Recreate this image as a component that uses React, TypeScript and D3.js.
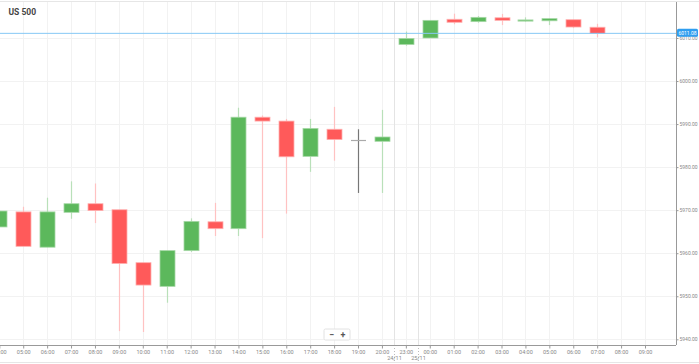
import React, { useEffect, useRef } from "react";
import * as d3 from "d3";

// hourly candles
const hours = [
  "04:00", "05:00", "06:00", "07:00", "08:00", "09:00", "10:00", "11:00", "12:00",
  "13:00", "14:00", "15:00", "16:00", "17:00", "18:00", "19:00", "20:00", "23:00",
  "00:00", "01:00", "02:00", "03:00", "04:00", "05:00", "06:00", "07:00", "08:00", "09:00",
];
const opens = [
  5966.1, 5969.6, 5961.4, 5969.5, 5971.5, 5970.1, 5957.8, 5952.3, 5960.6,
  5967.3, 5965.7, 5991.6, 5990.7, 5982.5, 5988.8, 5986.3, 5986.0, 6008.5,
  6010.0, 6014.35, 6013.8, 6014.7, 6014.0, 6014.0, 6014.25, 6012.5, null, null,
];
const highs = [
  5969.9, 5970.8, 5972.9, 5976.7, 5976.2, 5970.1, 5957.8, 5960.6, 5968.1,
  5971.7, 5993.8, 5992.0, 5991.2, 5991.2, 5994.0, 5988.8, 5993.3, 6011.5,
  6014.1, 6015.65, 6015.1, 6015.6, 6014.8, 6014.6, 6014.3, 6013.3, null, null,
];
const lows = [
  5966.1, 5961.6, 5961.4, 5968.0, 5967.0, 5941.9, 5941.7, 5948.5, 5960.3,
  5964.0, 5964.0, 5963.5, 5969.2, 5978.9, 5981.5, 5974.0, 5974.0, 6008.2,
  6010.0, 6013.2, 6013.55, 6013.0, 6013.8, 6013.0, 6012.3, 6010.15, null, null,
];
const closes = [
  5969.8, 5961.6, 5969.6, 5971.5, 5969.9, 5957.6, 5952.6, 5960.6, 5967.4,
  5965.7, 5991.6, 5990.7, 5982.4, 5989.0, 5986.4, 5986.3, 5987.0, 6009.9,
  6014.1, 6013.65, 6014.8, 6014.1, 6014.2, 6014.5, 6012.55, 6011.08, null, null,
];
const priceTicks = [5940, 5950, 5960, 5970, 5980, 5990, 6000, 6010];
const dayBreaks = [
  { after: "20:00", before: "23:00", label: "24/11" },
  { after: "23:00", before: "00:00", label: "25/11" },
];
const lastPrice = 6011.08;

const App = () => {
  const chartRef = useRef<SVGSVGElement | null>(null);

  useEffect(() => {
    const width = 699;
    const height = 364;
    const plotRight = 676;
    const axisY = 345;

    const svg = d3.select(chartRef.current);
    svg.selectAll("*").remove();

    const idx = hours.map((_, i) => String(i));
    const x = d3.scalePoint<string>().domain(idx).range([-0.7, 645]);
    const y = d3.scaleLinear().domain([5940, 6010]).range([339.3, 38]);
    const font = "Roboto, 'Open Sans', sans-serif";

    svg.append("rect").attr("width", width).attr("height", height).attr("fill", "#fff");

    // frame lines top/bottom
    svg.append("line").attr("x1", 0).attr("x2", width).attr("y1", 1.5).attr("y2", 1.5)
      .attr("stroke", "#e6e6e6");
    svg.append("line").attr("x1", 0).attr("x2", width).attr("y1", 362.5).attr("y2", 362.5)
      .attr("stroke", "#e6e6e6");

    const clip = svg.append("defs").append("clipPath").attr("id", "plotclip");
    clip.append("rect").attr("x", 0).attr("y", 2).attr("width", plotRight).attr("height", axisY - 2);

    const plot = svg.append("g").attr("clip-path", "url(#plotclip)");

    // vertical grid
    plot.selectAll("line.vgrid")
      .data(idx)
      .join("line")
      .attr("class", "vgrid")
      .attr("x1", d => Math.round(x(d)!) + 0.5)
      .attr("x2", d => Math.round(x(d)!) + 0.5)
      .attr("y1", 2)
      .attr("y2", axisY)
      .attr("stroke", "#f2f2f2");

    // horizontal grid
    plot.selectAll("line.hgrid")
      .data(priceTicks)
      .join("line")
      .attr("class", "hgrid")
      .attr("x1", 0)
      .attr("x2", plotRight)
      .attr("y1", d => Math.round(y(d)) + 0.5)
      .attr("y2", d => Math.round(y(d)) + 0.5)
      .attr("stroke", "#f2f2f2");

    // day separators, halfway between the two hours around the gap
    const breakX = (b: { after: string; before: string }) => {
      const a = hours.indexOf(b.after);
      const c = hours.indexOf(b.before, a);
      return Math.round((x(String(a))! + x(String(c))!) / 2) + 0.5;
    };
    dayBreaks.forEach(b => {
      const bx = breakX(b);
      plot.append("line").attr("x1", bx).attr("x2", bx).attr("y1", 2).attr("y2", axisY)
        .attr("stroke", "#e4e4e4");
      svg.append("line").attr("x1", bx).attr("x2", bx).attr("y1", axisY).attr("y2", 362)
        .attr("stroke", "#bbb").attr("stroke-dasharray", "1,2");
      svg.append("text").attr("x", bx).attr("y", 360).attr("text-anchor", "middle")
        .style("font-family", font).style("font-size", "5.5px").attr("fill", "#888")
        .text(b.label);
    });

    const candles = idx
      .map((k, i) => ({ k, o: opens[i], h: highs[i], l: lows[i], c: closes[i] }))
      .filter(d => d.o !== null);

    const colorOf = (d: any) => (d.c > d.o ? "#5cb85c" : d.c < d.o ? "#ff5a5a" : "#666");
    const wickOf = (d: any) => (d.c > d.o ? "#b9e0b9" : d.c < d.o ? "#ffc2c2" : "#777");
    const bodyW = 15;

    // wicks
    plot.selectAll("line.wick")
      .data(candles)
      .join("line")
      .attr("class", "wick")
      .attr("x1", d => Math.round(x(d.k)!) + 0.5)
      .attr("x2", d => Math.round(x(d.k)!) + 0.5)
      .attr("y1", d => y(d.h as number))
      .attr("y2", d => y(d.l as number))
      .attr("stroke", wickOf)
      .attr("stroke-width", 1.2);

    // bodies
    plot.selectAll("rect.body")
      .data(candles.filter(d => d.o !== d.c))
      .join("rect")
      .attr("class", "body")
      .attr("x", d => Math.round(x(d.k)!) - bodyW / 2 + 0.5)
      .attr("y", d => y(Math.max(d.o as number, d.c as number)))
      .attr("width", bodyW)
      .attr("height", d => Math.max(1.2, Math.abs(y(d.o as number) - y(d.c as number))))
      .attr("fill", colorOf)
      .attr("stroke", d => (d.c! > d.o! ? "#a6d8a6" : "#ffb0b0"))
      .attr("stroke-width", 0.8);

    // doji bar
    plot.selectAll("line.doji")
      .data(candles.filter(d => d.o === d.c))
      .join("line")
      .attr("class", "doji")
      .attr("x1", d => Math.round(x(d.k)!) - bodyW / 2 + 0.5)
      .attr("x2", d => Math.round(x(d.k)!) + bodyW / 2 + 0.5)
      .attr("y1", d => Math.round(y(d.o as number)) + 0.5)
      .attr("y2", d => Math.round(y(d.o as number)) + 0.5)
      .attr("stroke", "#aaa")
      .attr("stroke-width", 1.2);

    // last price line
    const py = y(lastPrice);
    svg.append("line").attr("x1", 0).attr("x2", plotRight).attr("y1", py).attr("y2", py)
      .attr("stroke", "#86c8f5").attr("stroke-width", 1);

    // right axis
    const yAxis = svg.append("g").attr("transform", `translate(${plotRight + 0.5},0)`)
      .call(d3.axisRight(y).tickValues(priceTicks).tickSize(2).tickFormat(d3.format(".2f")));
    yAxis.select(".domain").attr("stroke", "#999").attr("d", `M0,2V${axisY}`);
    yAxis.selectAll(".tick line").attr("stroke", "#999");
    yAxis.selectAll("text")
      .attr("x", 3)
      .style("font-family", font)
      .style("font-size", "5px")
      .attr("fill", "#888");

    // last price badge
    svg.append("rect").attr("x", plotRight + 1).attr("y", py - 4.5).attr("width", 21).attr("height", 8)
      .attr("rx", 1.5).attr("fill", "#2f9ef0");
    svg.append("text").attr("x", plotRight + 11.5).attr("y", py + 1.8).attr("text-anchor", "middle")
      .style("font-family", font).style("font-size", "5px").attr("fill", "#fff")
      .text(lastPrice.toFixed(2));

    // bottom axis
    const xAxis = svg.append("g").attr("transform", `translate(0,${axisY + 0.5})`)
      .call(d3.axisBottom(x).tickSize(3).tickFormat(d => hours[+d]));
    xAxis.select(".domain").attr("stroke", "#999").attr("d", `M0,0H${plotRight}`);
    xAxis.selectAll(".tick line").attr("stroke", "#999");
    xAxis.selectAll("text")
      .attr("y", 5)
      .style("font-family", font)
      .style("font-size", "5.5px")
      .attr("fill", "#888");

    // zoom control
    const zc = svg.append("g").attr("transform", "translate(324,329)");
    zc.append("rect").attr("width", 26).attr("height", 11).attr("rx", 1.5)
      .attr("fill", "#fff").attr("stroke", "#e2e2e2");
    zc.append("text").attr("x", 7.5).attr("y", 8.5).attr("text-anchor", "middle")
      .style("font-family", font).style("font-size", "9px").style("font-weight", "bold")
      .attr("fill", "#555").text("−");
    zc.append("text").attr("x", 19).attr("y", 8.5).attr("text-anchor", "middle")
      .style("font-family", font).style("font-size", "9px").style("font-weight", "bold")
      .attr("fill", "#555").text("+");

    // title
    svg.append("text").attr("x", 8.5).attr("y", 15)
      .style("font-family", font).style("font-size", "8.5px").style("font-weight", "bold")
      .attr("fill", "#444").text("US 500");
  }, []);

  return (
    <svg
      ref={chartRef}
      width={699}
      height={364}
      style={{ position: "absolute", left: 0, top: 0, display: "block" }}
    />
  );
};

export default App;
